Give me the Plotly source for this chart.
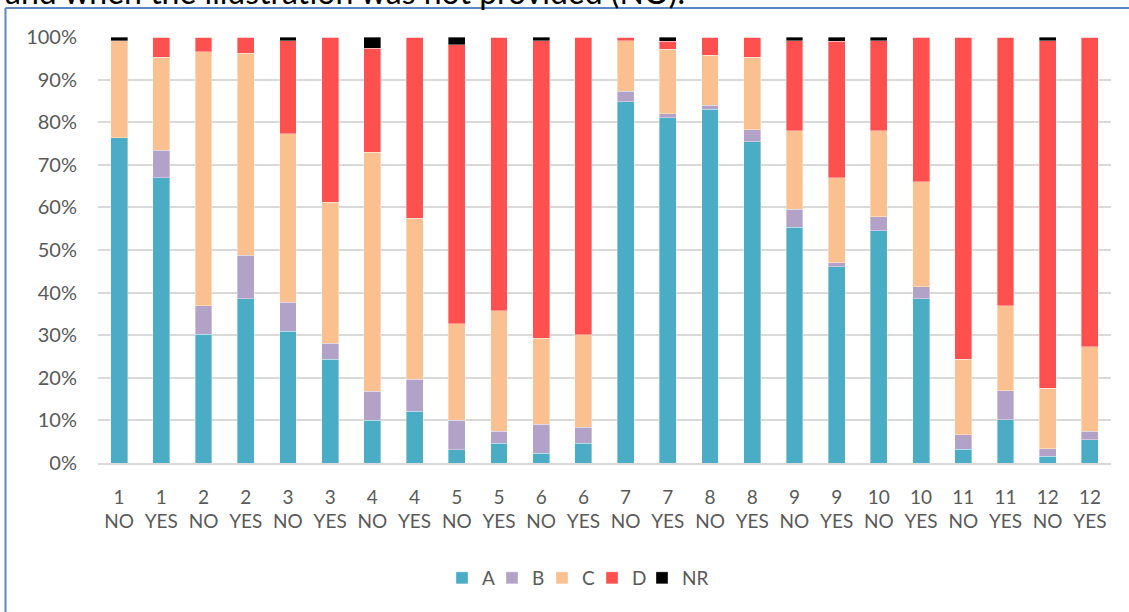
import plotly.graph_objects as go

categories = [f"{q}<br>{c}" for q in range(1, 13) for c in ("NO", "YES")]

A = [76.3, 67.0, 30.2, 38.6, 30.9, 24.3, 10.0, 12.1, 3.1, 4.6, 2.3, 4.6,
     84.8, 81.0, 83.0, 75.4, 55.3, 46.1, 54.5, 38.6, 3.2, 10.2, 1.6, 5.5]
B = [0.0, 6.4, 6.7, 10.2, 6.8, 3.8, 6.8, 7.6, 6.9, 2.8, 6.8, 3.8,
     2.5, 1.0, 1.0, 2.8, 4.3, 0.9, 3.3, 2.8, 3.4, 6.8, 1.7, 1.9]
C = [22.8, 21.8, 59.6, 47.4, 39.6, 33.1, 56.2, 37.7, 22.7, 28.3, 20.2, 21.7,
     11.8, 15.1, 11.7, 17.0, 18.4, 20.0, 20.2, 24.6, 17.7, 19.9, 14.3, 19.9]
D = [0.0, 4.8, 3.5, 3.8, 21.8, 38.8, 24.4, 42.6, 65.5, 64.3, 69.8, 69.9,
     0.9, 1.9, 4.3, 4.8, 21.1, 32.0, 21.1, 34.0, 75.7, 63.1, 81.5, 72.7]
NR = [0.9, 0.0, 0.0, 0.0, 0.9, 0.0, 2.6, 0.0, 1.8, 0.0, 0.9, 0.0,
      0.0, 1.0, 0.0, 0.0, 0.9, 1.0, 0.9, 0.0, 0.0, 0.0, 0.9, 0.0]

series = [("A", A, "#4BACC6"), ("B", B, "#B3A2C7"), ("C", C, "#FAC090"),
          ("D", D, "#FF5050"), ("NR", NR, "#000000")]

FONT = "Lato"
fig = go.Figure()
for name, vals, color in series:
    fig.add_trace(go.Bar(
        x=categories, y=vals, name=name,
        marker=dict(color=color, line=dict(color="rgba(255,255,255,0.6)", width=0.6)),
    ))
# spacer legend entry (transparent, zero height) so the last label is not clipped
fig.add_trace(go.Bar(x=categories[:1], y=[0], name=" ", showlegend=True,
                     hoverinfo="skip",
                     marker=dict(color="rgba(0,0,0,0)", line=dict(width=0))))

W, H = 1129, 612
L, R, T, B_ = 98, 18, 37, 149
ph = H - T - B_
pw = W - L - R

def px_to_py(p):
    return (H - B_ - p) / ph

def px_to_px(p):
    return (p - L) / pw

fig.update_layout(
    barmode="stack",
    bargap=0.6,
    width=W, height=H,
    margin=dict(l=L, r=R, t=T, b=B_),
    paper_bgcolor="white",
    plot_bgcolor="white",
    font=dict(family=FONT, size=19, color="#595959"),
    legend=dict(orientation="h", x=px_to_px(442), xanchor="left",
                y=px_to_py(578), yanchor="middle",
                font=dict(family=FONT, size=19, color="#595959"),
                itemwidth=30, entrywidth=5, traceorder="normal"),
    yaxis=dict(range=[0, 100], dtick=10, ticksuffix="%", showgrid=True,
               gridcolor="#D9D9D9", gridwidth=1.5, zeroline=False,
               showline=False, ticklabelstandoff=20,
               tickfont=dict(family=FONT, size=20, color="#595959")),
    xaxis=dict(showline=True, linecolor="#D9D9D9", linewidth=1.5,
               ticks="", ticklabelstandoff=16,
               tickfont=dict(family=FONT, size=19, color="#595959")),
    shapes=[
        dict(type="line", xref="paper", yref="paper",
             x0=px_to_px(5.5), x1=px_to_px(1140), y0=px_to_py(8), y1=px_to_py(8),
             line=dict(color="#5B88C4", width=2)),
        dict(type="line", xref="paper", yref="paper",
             x0=px_to_px(5.5), x1=px_to_px(5.5), y0=px_to_py(8), y1=px_to_py(620),
             line=dict(color="#5B88C4", width=2)),
    ],
    annotations=[
        dict(text="and when the illustration was not provided (NO).",
             xref="paper", yref="paper", x=px_to_px(3), y=px_to_py(-9),
             xanchor="left", yanchor="middle", showarrow=False,
             font=dict(family=FONT, size=32, color="black")),
    ],
)

fig.write_html("out.html", config={"displayModeBar": False},
               post_script="document.body.style.margin='0';")
